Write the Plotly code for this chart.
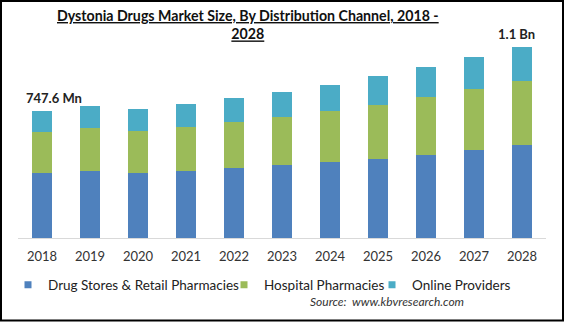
import plotly.graph_objects as go

years = ["2018", "2019", "2020", "2021", "2022", "2023", "2024", "2025", "2026", "2027", "2028"]
drug_stores = [384.5, 396.2, 384.4, 396.2, 413.9, 429.8, 449.2, 465.1, 490.4, 518.1, 547.5]
hospital = [241.3, 253.1, 245.5, 257.3, 269.0, 282.6, 298.5, 319.7, 337.3, 357.3, 376.8]
online = [121.8, 127.7, 129.5, 135.4, 141.3, 147.2, 153.1, 169.0, 180.7, 192.5, 201.9]
series_names = ["Drug Stores & Retail Pharmacies", "Hospital Pharmacies", "Online Providers"]
colors = ["#4F81BD", "#9BBB59", "#4BACC6"]
first_label = "747.6 Mn"
last_label = "1.1 Bn"

W, H = 565, 322
L, R, T, B = 18, 19, 40, 84
pw, ph = W - L - R, H - T - B

FONT = "Lato"


def px_x(p):
    return (p - L) / pw


def px_y(p):
    return (T + ph - p) / ph


fig = go.Figure()
for name, vals, col in zip(series_names, [drug_stores, hospital, online], colors):
    fig.add_trace(go.Bar(x=years, y=vals, name=name, marker=dict(color=col, line=dict(width=0)),
                         showlegend=False))

legend_ids = ["legend", "legend2", "legend3"]
for name, col, lid in zip(series_names, colors, legend_ids):
    fig.add_trace(go.Scatter(x=[years[0]], y=[None], mode="markers", name=name,
                             marker=dict(symbol="square", size=7, color=col),
                             legend=lid, showlegend=True, hoverinfo="skip"))

totals = [a + b + c for a, b, c in zip(drug_stores, hospital, online)]
# category axis: annotation positions by category index
fig.add_annotation(x=0, y=totals[0], text="<b>%s</b>" % first_label, showarrow=False,
                   yanchor="bottom", xshift=12, yshift=3, font=dict(family=FONT, size=13, color="#222"))
fig.add_annotation(x=len(years) - 1, y=totals[-1], text="<b>%s</b>" % last_label, showarrow=False,
                   yanchor="bottom", xshift=-6, yshift=3, font=dict(family=FONT, size=13, color="#222"))

fig.add_annotation(xref="paper", yref="paper", x=px_x(308), y=px_y(301),
                   text="<i>Source:  www.kbvresearch.com</i>", showarrow=False, xanchor="left", yanchor="middle",
                   font=dict(family=FONT, size=12, color="#333"))

# title
fig.add_annotation(xref="paper", yref="paper", x=px_x(248), y=px_y(5), xanchor="center", yanchor="top",
                   text="<b><u>Dystonia Drugs Market Size, By Distribution Channel, 2018 -</u></b><br><b><u>2028</u></b>",
                   showarrow=False, align="center",
                   font=dict(family=FONT, size=14.2, color="#111"))

# border around the whole image
fig.add_shape(type="rect", xref="paper", yref="paper", x0=px_x(1), x1=px_x(563), y0=px_y(1), y1=px_y(320.5),
              line=dict(color="#000", width=2), fillcolor="rgba(0,0,0,0)", layer="above")

legend_common = dict(orientation="h", xanchor="left", yanchor="middle", bgcolor="rgba(0,0,0,0)",
                     font=dict(family=FONT, size=13.5, color="#222"), itemwidth=30, tracegroupgap=0)
leg_x = [8, 224, 372]
layout_legs = {}
for lid, lx in zip(legend_ids, leg_x):
    layout_legs[lid] = dict(legend_common, x=px_x(lx), y=px_y(285))

fig.update_layout(
    width=W, height=H,
    margin=dict(l=L, r=R, t=T, b=B, autoexpand=False),
    paper_bgcolor="white", plot_bgcolor="white",
    barmode="stack", bargap=1 - 20 / 48,
    showlegend=True,
    xaxis=dict(type="category", range=[-0.5, len(years) - 0.5], showline=True, linecolor="#D9D9D9",
               linewidth=1, ticks="", showgrid=False, ticklabelstandoff=6, automargin=False,
               tickfont=dict(family=FONT, size=13, color="#333")),
    yaxis=dict(range=[0, ph * 747.6 / 127.0], visible=False, showgrid=False, zeroline=False),
    **layout_legs,
)

fig.write_html("out.html")
